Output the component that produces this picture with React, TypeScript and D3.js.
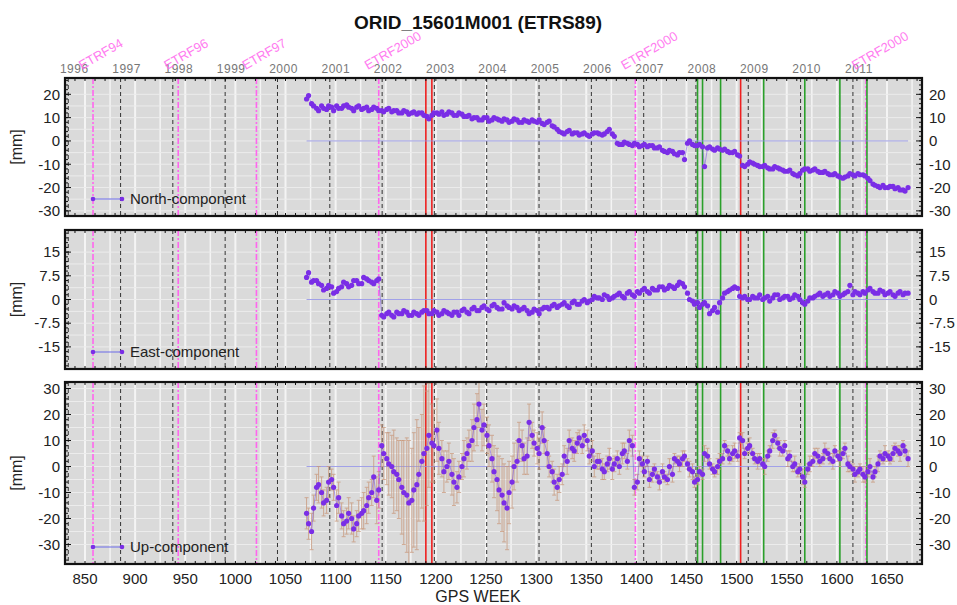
import React from "react";
import * as d3 from "d3";

// GPS weeks of the first sample set
const weeksA = [
  1071, 1076, 1081, 1086, 1091, 1096, 1101, 1106, 1111, 1116, 1121, 1126, 1131, 1136, 1141,
  1146, 1151, 1156, 1161, 1166, 1171, 1176, 1181, 1186, 1191, 1196, 1201, 1206, 1211, 1216,
  1221, 1226, 1231, 1236, 1241, 1246, 1251, 1256, 1261, 1266, 1271, 1276, 1281, 1286, 1291,
  1296, 1301, 1306, 1311, 1316, 1321, 1326, 1331, 1336, 1341, 1346, 1351, 1356, 1361, 1366,
  1371, 1376, 1381, 1386, 1391, 1396, 1401, 1406, 1411, 1416, 1421, 1426, 1431, 1436, 1441,
  1446, 1451, 1456, 1461, 1466, 1471, 1476, 1481, 1486, 1491, 1496, 1501, 1506, 1511, 1516,
  1521, 1526, 1531, 1536, 1541, 1546, 1551, 1556, 1561, 1566, 1571, 1576, 1581, 1586, 1591,
  1596, 1601, 1606, 1611, 1616, 1621, 1626, 1631, 1636, 1641, 1646, 1651, 1656, 1661, 1666,
  1671,
];

// GPS weeks of the second sample set
const weeksB = [
  1073, 1078, 1083, 1088, 1093, 1098, 1103, 1108, 1113, 1118, 1123, 1128, 1133, 1138, 1143,
  1148, 1153, 1158, 1163, 1168, 1173, 1178, 1183, 1188, 1193, 1198, 1203, 1208, 1213, 1218,
  1223, 1228, 1233, 1238, 1243, 1248, 1253, 1258, 1263, 1268, 1273, 1278, 1283, 1288, 1293,
  1298, 1303, 1308, 1313, 1318, 1323, 1328, 1333, 1338, 1343, 1348, 1353, 1358, 1363, 1368,
  1373, 1378, 1383, 1388, 1393, 1398, 1403, 1408, 1413, 1418, 1423, 1428, 1433, 1438, 1443,
  1448, 1453, 1458, 1463, 1468, 1473, 1478, 1483, 1488, 1493, 1498, 1503, 1508, 1513, 1518,
  1523, 1528, 1533, 1538, 1543, 1548, 1553, 1558, 1563, 1568, 1573, 1578, 1583, 1588, 1593,
  1598, 1603, 1608, 1613, 1618, 1623, 1628, 1633, 1638, 1643, 1648, 1653, 1658, 1663, 1668,
];

const northA = [
  18, 16, 14, 15, 13.5, 14.5, 15, 14, 15.5, 14, 14.5, 13.5, 14.5, 13.5, 14,
  13, 13.5, 12.5, 13, 12, 12.5, 12, 11.5, 12, 10.5, 11, 12, 12.5, 11.5, 12,
  11, 11.5, 10.5, 9.5, 10, 9, 10, 9, 9.5, 8.5, 9, 8.5, 9, 8, 8.5,
  9, 8, 7.5, 8, 6.5, 5, 3.5, 4, 3, 3.5, 3, 2.5, 3, 3.5, 2.5,
  4, 3, -1, -1.5, -1, -2, -1.5, -2, -2.5, -2, -3, -4, -5, -4.5, -6,
  -5, -1, -1.5, -2, -2.5, -3, -3.5, -3, -4, -4.5, -5, -6, -10.5, -10, -9.5,
  -10.5, -11, -11.5, -12, -11.5, -12.5, -13, -14, -15, -12.5, -12, -12.5, -13, -13.5, -14,
  -14.5, -15, -16, -15, -14.5, -14, -14.5, -16, -18.5, -19.5, -19, -20, -19.5, -20, -21,
  -20,
];
const northB = [
  19.5, 15, 13, 14, 15, 13, 14, 15, 14.5, 13, 15, 14, 13, 14.5, 13,
  12.5, 14, 13, 12, 13, 11.5, 12.5, 12, 11, 9.5, 12, 11.5, 11, 12.5, 11,
  12, 10.5, 11, 10, 9, 10, 8.5, 10, 9, 9.5, 8, 9.5, 8, 9, 8,
  8.5, 9, 7, 8.5, 6, 4, 3, 4.5, 3.5, 2.5, 3.5, 2, 3.5, 3, 3,
  5, 2, -1.5, -0.5, -1.5, -1, -2.5, -1.5, -2, -3, -2.5, -4.5, -4, -5.5, -5,
  -8, 0, -2, -1.5, -11, -2.5, -4, -3.5, -3.5, -5, -4.5, -6.5, -11, -9, -10,
  -11, -10.5, -12, -11, -12, -13, -12.5, -14.5, -14, -12, -13, -12, -13.5, -13, -14.5,
  -14, -15.5, -15.5, -14, -15, -14.5, -15, -17, -19, -20, -20, -19.5, -20.5, -21, -21.5,
];

const eastA = [
  7, 5.5, 6, 4.5, 3.5, 4, 2.5, 4, 5, 4.5, 6, 5, 6.5, 5.5, 6,
  -5, -4.5, -5, -4, -4.5, -4, -5, -4.5, -4, -3.5, -4.5, -4, -4.5, -4, -5,
  -4, -3.5, -4, -3, -3.5, -2.5, -3, -2, -2.5, -3, -2, -3, -2.5, -3, -3.5,
  -4, -3.5, -3, -2.5, -2, -2.5, -1.5, -2, -1, -1.5, -0.5, -1, 0, 0.5, 0,
  1, 0.5, 1.5, 1, 2, 1.5, 2.5, 3, 2.5, 3.5, 3, 4, 3.5, 4, 4.5,
  5, 2, -0.5, -1, -1.5, -2, -3.5, -4, 0.5, 2.5, 3.5, 3.5, 0.5, 0, 1,
  0.5, 0, 1, 0.5, 1.5, 0.5, 1, 0.5, 1, -1, -0.5, 0.5, 1.5, 1, 2,
  1.5, 2, 1.5, 2.5, 1.5, 2, 2.5, 3, 2.5, 2, 2.5, 2, 1.5, 2, 1.5,
  2,
];
const eastB = [
  8.5, 6, 5, 3, 4.5, 2, 3.5, 5.5, 4, 6, 5, 7, 6, 5, 6.5,
  -5.5, -4, -5.5, -4.5, -3.5, -5, -4, -5, -3.5, -4.5, -3.5, -5, -3.5, -4.5, -4,
  -5, -3, -4.5, -2.5, -3.5, -2, -3.5, -1.5, -3, -1, -2.5, -2, -3.5, -2.5, -4.5,
  -3, -4.5, -2.5, -3, -1.5, -2, -1, -2.5, -0.5, -1.5, 0, -0.5, 1, 0.5, 1.5,
  0, 1, 2, 0.5, 2.5, 1, 2, 3.5, 2, 3, 4, 3, 4.5, 3.5, 5.5,
  4, 0, -1.5, -2.5, -1, -4.5, -2.5, -1, 2, 3, 4, 1, 1, 0, 0.5,
  1.5, 0.5, -0.5, 1.5, 0, 1, 0, 1.5, 0, -1.5, 0.5, 1, 2, 1.5, 1,
  2.5, 1, 2, 4.5, 2.5, 1.5, 2, 3.5, 2, 3, 1.5, 2.5, 1, 2.5, 2,
];

const upA = [
  -18, -25, -8, -10, -13, -5, -15, -19, -21, -20, -22, -18, -15, -10, -13,
  8, 3, 0, -3, -8, -11, -13, -7, 2, 7, 9, 14, 3, 0, -3,
  -8, 0, 5, 10, 18, 14, 12, 3, -5, -11, -16, -6, 2, 8, 4,
  12, 7, 15, 5, -2, -8, -3, 2, 7, 9, 8, 10, 6, 2, -1,
  1, -1, 3, 5, 2, 8, -6, 1, 2, -3, -4, -2, -5, -3, 2,
  3, 1, -2, -5, -3, 4, -1, 0, 3, 6, 5, 4, 10, 7, 5,
  2, 1, 4, 10, 9, 6, 3, 0, -2, -4, -1, 2, 4, 3, 5,
  2, 4, 5, 1, -1, -2, -3, -2, -4, 1, 3, 4, 5, 6, 8,
  3,
];
const upB = [
  -22, -16, -7, -14, -6, -8, -12, -22, -18, -24, -19, -17, -12, -4, -9,
  5, 1, -2, -5, -10, -14, -9, -3, 5, 12, 8, 7, -2, 2, -6,
  -4, 3, 8, 15, 24, 16, 8, -2, -9, -14, -10, 0, 10, 3, 17,
  9, 5, 10, 0, -6, -5, 4, 10, 6, 11, 12, 4, 0, 2, -2,
  3, 1, 0, 6, 10, -8, 3, -2, -5, -1, -6, -4, 0, 3, 1,
  4, -1, -6, -2, 5, 1, -2, 2, 8, 3, 6, 11, 5, 8, 3,
  3, 0, 6, 12, 7, 8, 4, 1, -1, -6, 1, 5, 2, 6, 3,
  6, 3, 7, 0, -3, -1, -4, 0, -2, 4, 5, 3, 7, 5, 6,
];

// formal errors of the Up component (mm)
const upSigmaA = [
  6, 7, 5, 6, 5, 4, 6, 5, 5, 6, 5, 6, 7, 5, 9,
  8, 10, 12, 14, 18, 22, 20, 25, 18, 22, 15, 12, 7, 6, 8,
  6, 5, 6, 8, 10, 8, 7, 9, 12, 14, 16, 10, 8, 6, 7,
  5, 6, 6, 5, 4, 5, 4, 5, 4, 4, 3, 4, 4, 3, 4,
  3, 4, 3, 4, 3, 4, 3, 3, 2, 3, 2, 3, 2, 3, 2,
  3, 2, 3, 2, 2, 3, 2, 3, 2, 2, 3, 2, 3, 2, 2,
  3, 2, 2, 3, 2, 2, 3, 2, 2, 3, 2, 2, 3, 2, 2,
  3, 2, 2, 3, 2, 2, 3, 2, 2, 3, 2, 2, 3, 2, 2,
  3,
];
const upSigmaB = [
  6, 5, 7, 5, 6, 5, 6, 5, 6, 5, 6, 7, 6, 8, 7,
  10, 12, 16, 15, 20, 24, 22, 18, 26, 20, 14, 10, 8, 7, 9,
  6, 7, 6, 9, 9, 8, 8, 10, 13, 15, 12, 9, 7, 6, 7,
  5, 6, 5, 4, 5, 5, 4, 4, 4, 3, 4, 3, 4, 3, 3,
  4, 3, 3, 3, 4, 3, 3, 2, 3, 2, 3, 2, 3, 2, 3,
  2, 3, 2, 2, 3, 2, 2, 3, 2, 2, 3, 2, 2, 3, 2,
  2, 3, 2, 2, 3, 2, 2, 3, 2, 2, 3, 2, 2, 3, 2,
  2, 3, 2, 2, 3, 2, 2, 3, 2, 2, 3, 2, 2, 3, 2,
];

const weekTicks = [850, 900, 950, 1000, 1050, 1100, 1150, 1200, 1250, 1300, 1350, 1400, 1450, 1500, 1550, 1600, 1650];
const yearLabels = ["1996", "1997", "1998", "1999", "2000", "2001", "2002", "2003", "2004", "2005", "2006", "2007", "2008", "2009", "2010", "2011"];
const yearWeeks = [833.3, 885.5, 937.6, 989.8, 1042, 1094.2, 1146.4, 1198.5, 1250.7, 1302.9, 1355.1, 1407.3, 1459.4, 1511.6, 1563.8, 1616];
const etrfLabels = ["ETRF94", "ETRF96", "ETRF97", "ETRF2000", "ETRF2000", "ETRF2000"];
const etrfWeeks = [858, 943, 1021, 1143, 1399, 1629];
const redWeeks = [1190, 1196, 1504];
const greenWeeks = [1461, 1466, 1484, 1527, 1568, 1603, 1630];

const northTicks = [20, 10, 0, -10, -20, -30];
const eastTicks = [15, 7.5, 0, -7.5, -15];
const upTicks = [30, 20, 10, 0, -10, -20, -30];

const FONT = "'Liberation Sans', Arial, Helvetica, sans-serif";
const DOT = "#7a2ee6";

const x = d3.scaleLinear().domain([850, 1650]).range([85, 887]);
const X0 = 65;
const X1 = 922;

type Pt = { w: number; v: number; s: number };

function merge(a: number[], b: number[], sa?: number[], sb?: number[]): Pt[] {
  const pts: Pt[] = [];
  weeksA.forEach((w, i) => pts.push({ w, v: a[i], s: sa ? sa[i] : 0 }));
  weeksB.forEach((w, i) => pts.push({ w, v: b[i], s: sb ? sb[i] : 0 }));
  return pts.sort((p, q) => p.w - q.w);
}

type PanelDef = {
  key: string;
  label: string;
  pts: Pt[];
  errors: boolean;
  domain: [number, number];
  ticks: number[];
  minor: number;
  top: number;
  bottom: number;
};

const panels: PanelDef[] = [
  { key: "n", label: "North-component", pts: merge(northA, northB), errors: false, domain: [-32.2, 27], ticks: northTicks, minor: 2, top: 78, bottom: 216 },
  { key: "e", label: "East-component", pts: merge(eastA, eastB), errors: false, domain: [-22, 22], ticks: eastTicks, minor: 1.5, top: 230, bottom: 369 },
  { key: "u", label: "Up-component", pts: merge(upA, upB, upSigmaA, upSigmaB), errors: true, domain: [-37.5, 32.5], ticks: upTicks, minor: 2, top: 382, bottom: 564 },
];

function Panel({ p }: { p: PanelDef }) {
  const y = d3.scaleLinear().domain(p.domain).range([p.bottom, p.top]);
  const pts = p.pts;
  const line = d3
    .line<Pt>()
    .x((d) => x(d.w))
    .y((d) => y(d.v));
  const gridX = d3.range(850, 1686, 25);
  const step = p.ticks[0] - p.ticks[1];
  const gridY = d3.range(p.ticks[p.ticks.length - 1], p.ticks[0] + 0.01, step / 2);
  const minorY = d3.range(Math.ceil(p.domain[0] / p.minor) * p.minor, p.domain[1], p.minor);
  const minorX = d3.range(830, 1686, 10);
  const clipId = `clip-${p.key}`;
  const midY = (p.top + p.bottom) / 2;
  const legY = p.bottom - 17;

  return (
    <g>
      <defs>
        <clipPath id={clipId}>
          <rect x={X0} y={p.top} width={X1 - X0} height={p.bottom - p.top} />
        </clipPath>
      </defs>
      <rect x={X0} y={p.top} width={X1 - X0} height={p.bottom - p.top} fill="#dadada" />
      <g clipPath={`url(#${clipId})`}>
        {gridX.map((g) => (
          <line key={`gx${g}`} x1={x(g)} x2={x(g)} y1={p.top} y2={p.bottom} stroke="#f4f4f4" strokeWidth={g % 50 === 0 ? 2 : 1.5} />
        ))}
        {gridY.map((g) => (
          <line key={`gy${g}`} x1={X0} x2={X1} y1={y(g)} y2={y(g)} stroke="#ececec" strokeWidth={1} />
        ))}
        {yearWeeks.map((w) => (
          <line key={`yd${w}`} x1={x(w)} x2={x(w)} y1={p.top} y2={p.bottom} stroke="#333" strokeWidth={1} strokeDasharray="4,3" />
        ))}
        {etrfWeeks.map((w) => (
          <line key={`et${w}`} x1={x(w)} x2={x(w)} y1={p.top} y2={p.bottom} stroke="#ff66ee" strokeWidth={1.6} strokeDasharray="6,2,2,2" />
        ))}
        {greenWeeks.map((w) => (
          <line key={`gr${w}`} x1={x(w)} x2={x(w)} y1={p.top} y2={p.bottom} stroke="#2aa02a" strokeWidth={1.6} />
        ))}
        {redWeeks.map((w) => (
          <line key={`rd${w}`} x1={x(w)} x2={x(w)} y1={p.top} y2={p.bottom} stroke="#ee2020" strokeWidth={1.6} />
        ))}
        <line x1={x(pts[0].w)} x2={x(pts[pts.length - 1].w)} y1={y(0)} y2={y(0)} stroke="#8f8fe8" strokeWidth={1} opacity={0.8} />
        {p.errors &&
          pts.map((d) => (
            <g key={`eb${d.w}`} stroke="#c8977a" strokeWidth={1} opacity={0.75}>
              <line x1={x(d.w)} x2={x(d.w)} y1={y(d.v - d.s)} y2={y(d.v + d.s)} />
              <line x1={x(d.w) - 2} x2={x(d.w) + 2} y1={y(d.v - d.s)} y2={y(d.v - d.s)} />
              <line x1={x(d.w) - 2} x2={x(d.w) + 2} y1={y(d.v + d.s)} y2={y(d.v + d.s)} />
            </g>
          ))}
        <path d={line(pts) || ""} fill="none" stroke="#6b3fe0" strokeWidth={0.8} opacity={0.6} />
        {pts.map((d) => (
          <circle key={`pt${d.w}`} cx={x(d.w)} cy={y(d.v)} r={2.6} fill={DOT} />
        ))}
      </g>
      {minorY.map((t) => (
        <g key={`my${t}`} stroke="#111" strokeWidth={1}>
          <line x1={X0} x2={X0 + 3} y1={y(t)} y2={y(t)} />
          <line x1={X1} x2={X1 - 3} y1={y(t)} y2={y(t)} />
        </g>
      ))}
      {p.ticks.map((t) => (
        <g key={`ty${t}`}>
          <line x1={X0} x2={X0 + 6} y1={y(t)} y2={y(t)} stroke="#111" />
          <line x1={X1} x2={X1 - 6} y1={y(t)} y2={y(t)} stroke="#111" />
          <text x={60} y={y(t)} dy="0.35em" textAnchor="end" fontSize={15} fill="#222">{t}</text>
          <text x={929} y={y(t)} dy="0.35em" textAnchor="start" fontSize={15} fill="#222">{t}</text>
        </g>
      ))}
      {minorX.map((t) => (
        <g key={`mx${t}`} stroke="#111" strokeWidth={1}>
          <line x1={x(t)} x2={x(t)} y1={p.bottom} y2={p.bottom - 3} />
          <line x1={x(t)} x2={x(t)} y1={p.top} y2={p.top + 3} />
        </g>
      ))}
      <rect x={X0} y={p.top} width={X1 - X0} height={p.bottom - p.top} fill="none" stroke="#111" strokeWidth={2.2} />
      <text transform={`translate(22,${midY}) rotate(-90)`} textAnchor="middle" fontSize={16} fill="#222">[mm]</text>
      <line x1={93} x2={122} y1={legY} y2={legY} stroke="#6b6be8" strokeWidth={1} />
      <circle cx={93} cy={legY} r={2.3} fill={DOT} />
      <circle cx={122} cy={legY} r={2.3} fill={DOT} />
      <text x={130} y={legY} dy="0.35em" fontSize={15} fill="#222">{p.label}</text>
    </g>
  );
}

export default function App() {
  return (
    <div style={{ position: "absolute", left: 0, top: 0 }}>
      <svg width={957} height={605} fontFamily={FONT} style={{ display: "block", background: "#fff" }}>
        <text x={478} y={29} textAnchor="middle" fontSize={19} fontWeight="bold" fill="#111">ORID_15601M001 (ETRS89)</text>
        {yearLabels.map((l, i) => (
          <text key={l} x={x(yearWeeks[i]) + 6} y={73} textAnchor="middle" fontSize={12} fill="#777" letterSpacing={0.5}>{l}</text>
        ))}
        {etrfLabels.map((l, i) => (
          <text key={`lab${i}`} transform={`translate(${x(etrfWeeks[i]) - 11},70) rotate(-30)`} fontSize={13} fill="#ff66ee" opacity={0.85}>{l}</text>
        ))}
        {panels.map((p) => (
          <Panel key={p.key} p={p} />
        ))}
        {weekTicks.map((t) => (
          <text key={`wt${t}`} x={x(t)} y={584} textAnchor="middle" fontSize={15} fill="#222">{t}</text>
        ))}
        <text x={478} y={602} textAnchor="middle" fontSize={16} fill="#222">GPS WEEK</text>
      </svg>
    </div>
  );
}
